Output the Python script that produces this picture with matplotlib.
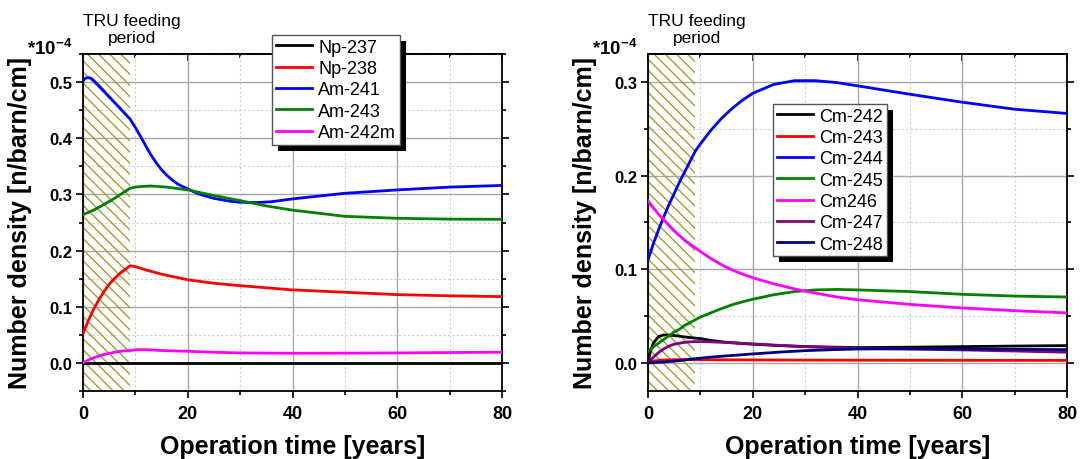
import numpy as np
import matplotlib
matplotlib.use('Agg')
import matplotlib.pyplot as plt
from matplotlib.patches import Rectangle
from matplotlib.transforms import IdentityTransform, blended_transform_factory
from matplotlib.ticker import MultipleLocator, NullFormatter

plt.rcParams['font.family'] = ['Liberation Sans', 'DejaVu Sans']
plt.rcParams['mathtext.fontset'] = 'custom'
plt.rcParams['mathtext.rm'] = 'Liberation Sans:bold'
plt.rcParams['mathtext.bf'] = 'Liberation Sans:bold'
plt.rcParams['hatch.linewidth'] = 1.0

# %%
# left panel: Np / Am isotopes (values in 1e-4 n/barn/cm)
t_np237 = [0, 80]
np237 = [0.0, 0.0]

t_np238 = [0, 1, 2, 3, 4, 5, 6, 7, 8, 9, 10, 12, 15, 20, 25, 30, 40, 50, 60, 70, 80]
np238 = [0.052, 0.075, 0.095, 0.112, 0.127, 0.140, 0.150, 0.159, 0.166, 0.173, 0.1715,
         0.1655, 0.158, 0.148, 0.1418, 0.1375, 0.130, 0.1258, 0.1216, 0.1195, 0.118]

t_am241 = [0, 0.5, 1, 1.5, 2, 3, 4, 5, 6, 7, 8, 9, 10, 11, 12, 13, 14, 15, 16, 17, 18,
           19, 20, 22, 25, 28, 30, 33, 36, 40, 45, 50, 60, 70, 80]
am241 = [0.502, 0.507, 0.508, 0.507, 0.503, 0.494, 0.484, 0.474, 0.464, 0.454, 0.444,
         0.434, 0.419, 0.403, 0.386, 0.370, 0.356, 0.344, 0.334, 0.326, 0.319, 0.314,
         0.310, 0.301, 0.293, 0.288, 0.286, 0.2855, 0.287, 0.292, 0.297, 0.302, 0.308,
         0.313, 0.316]

t_am243 = [0, 2, 4, 6, 8, 9, 10, 11, 13, 16, 20, 25, 30, 35, 40, 50, 60, 70, 80]
am243 = [0.264, 0.272, 0.282, 0.293, 0.305, 0.311, 0.313, 0.314, 0.315, 0.313, 0.308,
         0.298, 0.289, 0.2795, 0.272, 0.261, 0.2575, 0.256, 0.2557]

t_am242m = [0, 1, 2, 3, 4, 5, 6, 7, 8, 9, 10, 12, 15, 20, 25, 30, 40, 50, 60, 70, 80]
am242m = [0.0, 0.005, 0.009, 0.012, 0.015, 0.017, 0.019, 0.0205, 0.0215, 0.022, 0.0235,
          0.0237, 0.022, 0.0207, 0.019, 0.0178, 0.0172, 0.0174, 0.0178, 0.0185, 0.019]

# right panel: Cm isotopes
t_cm242 = [0, 0.5, 1, 2, 3, 4, 5, 6, 7, 8, 9, 10, 12, 15, 20, 25, 30, 40, 50, 60, 70, 80]
cm242 = [0.0, 0.013, 0.021, 0.028, 0.0299, 0.0297, 0.0292, 0.0285, 0.0278, 0.0271, 0.0265,
         0.026, 0.024, 0.022, 0.020, 0.0185, 0.0174, 0.0164, 0.0168, 0.0174, 0.018, 0.0185]

t_cm243 = [0, 1, 3, 6, 9, 15, 20, 30, 40, 60, 80]
cm243 = [0.0, 0.002, 0.0032, 0.0035, 0.0035, 0.0033, 0.0032, 0.003, 0.0029, 0.0028, 0.0027]

t_cm244 = [0, 1, 2, 3, 4, 5, 6, 7, 8, 9, 10, 12, 14, 16, 18, 20, 24, 28, 32, 36, 40, 50, 60, 70, 80]
cm244 = [0.110, 0.127, 0.142, 0.156, 0.169, 0.181, 0.193, 0.204, 0.215, 0.226, 0.234,
         0.2485, 0.261, 0.2715, 0.2805, 0.288, 0.2975, 0.3015, 0.3015, 0.2995, 0.296,
         0.287, 0.2785, 0.271, 0.2665]

t_cm245 = [0, 1, 2, 3, 4, 5, 6, 7, 8, 9, 10, 12, 14, 16, 18, 20, 24, 28, 32, 36, 40, 50, 60, 70, 80]
cm245 = [0.012, 0.017, 0.021, 0.025, 0.029, 0.033, 0.036, 0.040, 0.043, 0.046, 0.049,
         0.0535, 0.058, 0.062, 0.0652, 0.068, 0.0728, 0.0762, 0.078, 0.0785, 0.078, 0.0762,
         0.0733, 0.0714, 0.0704]

t_cm246 = [0, 1, 2, 3, 4, 5, 6, 7, 8, 9, 10, 12, 14, 16, 18, 20, 24, 28, 32, 36, 40, 50, 60, 70, 80]
cm246 = [0.173, 0.166, 0.159, 0.153, 0.147, 0.141, 0.136, 0.131, 0.127, 0.123, 0.119,
         0.1115, 0.105, 0.0995, 0.095, 0.091, 0.0845, 0.079, 0.0745, 0.0705, 0.0675, 0.0625,
         0.0587, 0.0558, 0.0534]

t_cm247 = [0, 1, 2, 3, 4, 5, 6, 7, 8, 9, 10, 12, 15, 20, 25, 30, 40, 50, 60, 70, 80]
cm247 = [0.0, 0.006, 0.011, 0.015, 0.018, 0.020, 0.021, 0.022, 0.0225, 0.0228, 0.0228,
         0.0225, 0.0218, 0.0203, 0.0188, 0.0174, 0.0157, 0.0148, 0.0139, 0.0127, 0.0114]

t_cm248 = [0, 3, 6, 9, 12, 15, 20, 25, 30, 35, 40, 50, 60, 70, 80]
cm248 = [0.0, 0.001, 0.0025, 0.0045, 0.0062, 0.0075, 0.0096, 0.0115, 0.0131, 0.0141,
         0.0149, 0.0151, 0.0149, 0.0145, 0.0142]

left_series = [(t_np237, np237, 'Np-237', 'black'),
               (t_np238, np238, 'Np-238', '#ff0000'),
               (t_am241, am241, 'Am-241', '#0000ff'),
               (t_am243, am243, 'Am-243', '#008000'),
               (t_am242m, am242m, 'Am-242m', '#ff00ff')]
right_series = [(t_cm242, cm242, 'Cm-242', 'black'),
                (t_cm243, cm243, 'Cm-243', '#ff0000'),
                (t_cm244, cm244, 'Cm-244', '#0000ff'),
                (t_cm245, cm245, 'Cm-245', '#008000'),
                (t_cm246, cm246, 'Cm246', '#ff00ff'),
                (t_cm247, cm247, 'Cm-247', '#800080'),
                (t_cm248, cm248, 'Cm-248', '#000080')]

feed_end = 9

fig = plt.figure(figsize=(10.87, 4.6), dpi=100)
W, H = 1087, 460
ax1 = fig.add_axes([83 / W, 1 - 392 / H, 419 / W, 337 / H])
ax2 = fig.add_axes([648 / W, 1 - 392 / H, 419 / W, 337 / H])


def style_axis(ax, ylim, yticks):
    ax.set_xlim(0, 80)
    ax.set_ylim(*ylim)
    ax.xaxis.set_major_locator(MultipleLocator(20))
    ax.xaxis.set_minor_locator(MultipleLocator(10))
    ax.set_yticks(yticks)
    ax.set_yticklabels(['%.1f' % y for y in yticks])
    ax.yaxis.set_minor_locator(MultipleLocator(0.05))
    ax.grid(which='major', color='#a8a8a8', lw=1.0, ls='-')
    ax.grid(which='minor', color='#cfcfcf', lw=0.8, ls=(0, (2, 2)))
    ax.set_axisbelow(True)
    for s in ax.spines.values():
        s.set_linewidth(1.3)
    ax.tick_params(which='both', direction='out', width=1.2, top=False, right=True)
    ax.tick_params(which='major', length=5)
    ax.tick_params(which='minor', length=3)
    ax.tick_params(axis='x', which='both', labelsize=13, pad=5)
    ax.tick_params(axis='y', which='both', labelsize=12, pad=3)
    for lab in ax.get_xticklabels() + ax.get_yticklabels():
        lab.set_fontweight('bold')
    # top ticks point inward
    top = ax.secondary_xaxis('top')
    top.xaxis.set_major_locator(MultipleLocator(20))
    top.xaxis.set_minor_locator(MultipleLocator(10))
    top.xaxis.set_major_formatter(NullFormatter())
    top.tick_params(which='both', direction='in', width=1.2)
    top.tick_params(which='major', length=5)
    top.tick_params(which='minor', length=3)
    top.spines['top'].set_linewidth(1.3)
    ax.set_xlabel('Operation time [years]', fontsize=18, fontweight='bold', labelpad=9)
    ax.set_ylabel('Number density [n/barn/cm]', fontsize=18, fontweight='bold')
    ax.yaxis.set_label_coords(-51 / 419, 0.5)
    # hatched TRU feeding period
    ax.axvspan(0, feed_end, facecolor='none', edgecolor='#a0a030', hatch='\\\\\\', lw=0, zorder=1)
    tr = blended_transform_factory(ax.transData, fig.transFigure)
    ax.text(9.4, 1 - 30 / H, 'TRU feeding\nperiod', transform=tr, ha='center', va='center',
            fontsize=12.5, linespacing=1.2)
    ax.text(-56 / 419, 1.0, r'$*10^{-4}$', transform=ax.transAxes, ha='left', va='baseline',
            fontsize=13.5)


style_axis(ax1, (-0.05, 0.55), [0.0, 0.1, 0.2, 0.3, 0.4, 0.5])
style_axis(ax2, (-0.03, 0.33), [0.0, 0.1, 0.2, 0.3])

for t, v, name, c in left_series:
    ax1.plot(t, v, color=c, lw=2.0, label=name, zorder=3)
for t, v, name, c in right_series:
    ax2.plot(t, v, color=c, lw=2.0, label=name, zorder=3)

leg_kw = dict(loc='upper left', borderaxespad=0, fancybox=False, framealpha=1,
              edgecolor='#555555', fontsize=13, labelspacing=0.24, handlelength=2.0,
              handletextpad=0.36, borderpad=0.2)
leg1 = ax1.legend(bbox_to_anchor=(272 / W, 1 - 36 / H), bbox_transform=fig.transFigure, **leg_kw)
leg2 = ax2.legend(bbox_to_anchor=(773 / W, 1 - 105 / H), bbox_transform=fig.transFigure, **leg_kw)
for leg in (leg1, leg2):
    leg.get_frame().set_linewidth(1.0)
    leg.set_zorder(6)

# black drop shadow behind each legend
fig.canvas.draw()
for ax, leg in ((ax1, leg1), (ax2, leg2)):
    bb = leg.get_window_extent()
    ax.add_patch(Rectangle((bb.x0 + 6, bb.y0 - 6), bb.width, bb.height, facecolor='black',
                           edgecolor='none', transform=IdentityTransform(), clip_on=False,
                           zorder=5.5))

fig.savefig('out.png', dpi=100)
